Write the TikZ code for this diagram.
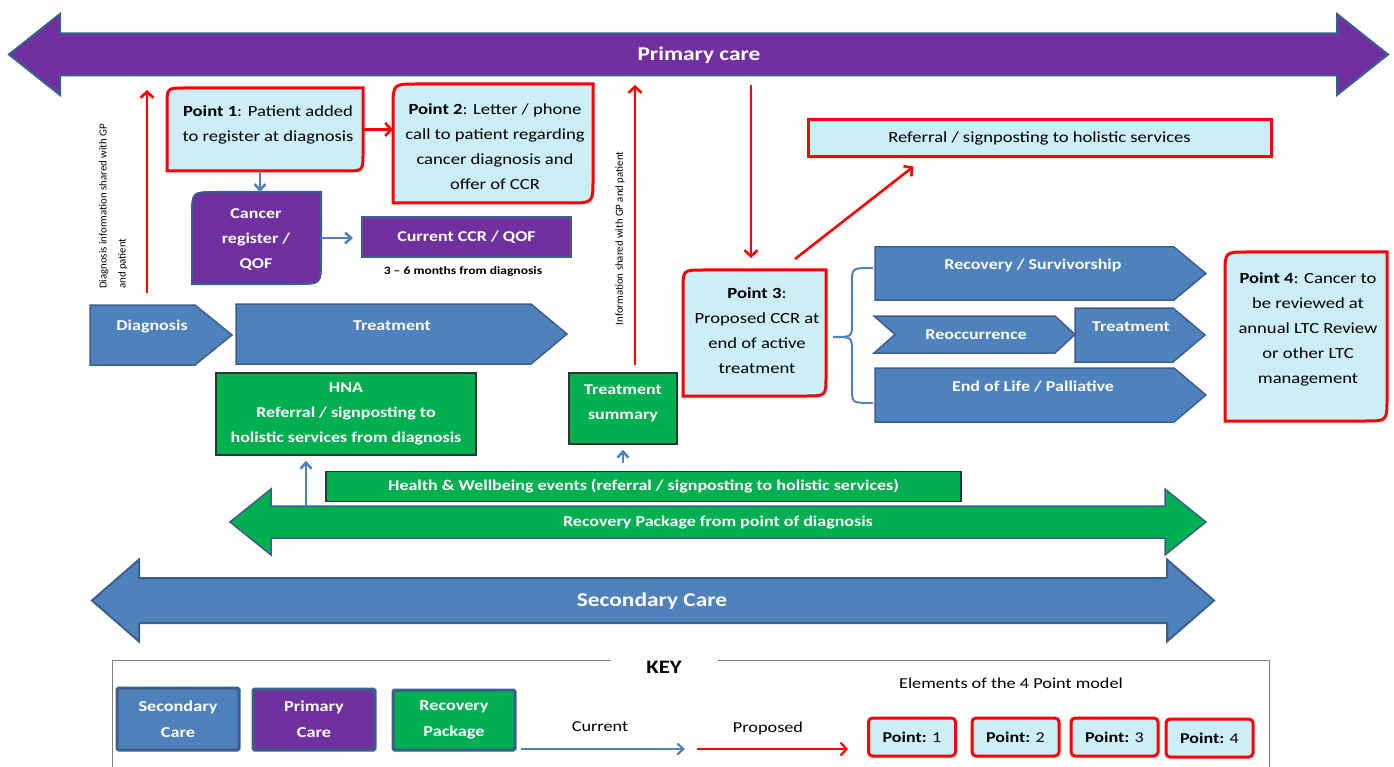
\documentclass[tikz,border=0pt]{standalone}
\usepackage{fontspec}
\setmainfont{Carlito}[FakeStretch=1.2]
\newfontfamily\plainfont{Carlito}
\usetikzlibrary{arrows.meta}
\definecolor{cpurple}{HTML}{7030A0}
\definecolor{cblue}{HTML}{4F81BD}
\definecolor{cborder}{HTML}{3B5F8C}
\definecolor{cgreen}{HTML}{00B050}
\definecolor{cgborder}{HTML}{263A2C}
\definecolor{clight}{HTML}{CCEEF9}
\definecolor{cred}{HTML}{FF0000}
\definecolor{cgray}{HTML}{7F7F7F}
\newcommand\FS[2]{\fontsize{#1}{#2}\selectfont}
% shape with rounded top-left and bottom-right corners
\newcommand\ShapeTLBR[6]{\path[#1] (#2,#3+#6) .. controls (#2,#3) .. (#2+#6,#3) -- (#4,#3) -- (#4,#5-#6) .. controls (#4,#5) .. (#4-#6,#5) -- (#2,#5) -- cycle;}
% invisible node covering a box
\newcommand\BoxNode[5]{\node[inner sep=0pt, outer sep=0pt, minimum width={#4-#2}, minimum height={#5-#3}] (#1) at ({(#2+#4)/2},{(#3+#5)/2}) {};}
% chevron: style, x1, y1, x2, y2, tip depth, notch depth
\newcommand\Chev[7]{\path[#1] (#2,#3) -- (#4-#6,#3) -- (#4,{(#3+#5)/2}) -- (#4-#6,#5) -- (#2,#5) -- (#2+#7,{(#3+#5)/2}) -- cycle;}
% double arrow: style, x1, x2, yc, shaft half, head half, head length
\newcommand\DblArrow[7]{\path[#1] (#2,#4) -- (#2+#7,#4-#6) -- (#2+#7,#4-#5) -- (#3-#7,#4-#5) -- (#3-#7,#4-#6) -- (#3,#4) -- (#3-#7,#4+#6) -- (#3-#7,#4+#5) -- (#2+#7,#4+#5) -- (#2+#7,#4+#6) -- cycle;}
\begin{document}
\begin{tikzpicture}[x=1pt,y=-1pt,
  redarr/.style={draw=cred, line width=2.6pt, -{Straight Barb[length=6pt,width=13pt]}},
  bluearr/.style={draw=cblue, line width=2.6pt, -{Straight Barb[length=6pt,width=11pt]}},
  chevron/.style={fill=cblue, draw=cborder, line width=1.5pt},
  pshape/.style={fill=clight, draw=cred, line width=3pt},
  crshape/.style={fill=cpurple, draw=cborder, line width=2pt},
  wlab/.style={text=white, font=\FS{15}{25}\bfseries, align=center, inner sep=0pt},
  blab/.style={text=black, font=\FS{15.5}{25}, align=center, inner sep=0pt},
  greenbox/.style={fill=cgreen, draw=cgborder, line width=1.5pt, inner sep=0pt, text=white, font=\FS{15}{25}\bfseries, align=center},
  keybox/.style={draw=cborder, line width=3pt, rounded corners=1.5pt, inner sep=0pt, minimum width=122pt, text=white, font=\FS{15.2}{26}\bfseries, align=center},
  kpoint/.style={draw=cred, fill=clight, line width=3pt, rounded corners=4pt, inner sep=0pt, minimum width=87pt, minimum height=38pt, font=\FS{15}{17}},
  ktext/.style={inner sep=0pt, font=\FS{15.2}{17}},
  vtext/.style={rotate=90, font=\plainfont\FS{10.8}{19}, align=left, inner sep=0pt}
]
\useasboundingbox (0,0) rectangle (1394,767);

% ---------- Primary care ----------
\DblArrow{fill=cpurple, draw=cborder, line width=2pt}{9}{1388}{54.5}{21}{40.5}{51}
\node[wlab, font=\FS{19.5}{22}\bfseries] (pc) at (699,55) {Primary care};

% ---------- left vertical information arrow ----------
\coordinate (d0) at (147,293);
\coordinate (d1) at (147,90);
\draw[redarr] (d0) -- (d1);
\node[vtext, anchor=north west] (dinfo) at (99,289) {Diagnosis information shared with GP\\and patient};

% ---------- Point 1 ----------
\ShapeTLBR{pshape}{167}{88}{363}{171}{18}
\BoxNode{p1}{167}{88}{363}{171}
\node[blab] (p1t) at (268,124.5) {{\bfseries Point 1}: Patient added\\to register at diagnosis};

% ---------- Point 2 ----------
\ShapeTLBR{pshape}{393}{84}{593}{203}{24}
\BoxNode{p2}{393}{84}{593}{203}
\node[blab] (p2t) at (495,146.5) {{\bfseries Point 2}: Letter / phone\\call to patient regarding\\cancer diagnosis and\\offer of CCR};

\draw[redarr] (p1.east) -- (p2.west |- p1.east);

% ---------- Cancer register ----------
\ShapeTLBR{crshape}{192}{192}{321}{284}{24}
\BoxNode{cr}{192}{192}{321}{284}
\node[wlab] (crt) at (256,240) {Cancer\\register /\\QOF};
\draw[bluearr] (p1.south -| 260,0) -- (cr.north -| 260,0);

% ---------- Current CCR ----------
\node[fill=cpurple, draw=cborder, line width=2pt, minimum width=209pt, minimum height=40pt, wlab] (ccr) at (466.5,237) {Current CCR / QOF};
\node[inner sep=0pt, font=\FS{11.3}{14}\bfseries] (months) at (463,271) {3 -- 6 months from diagnosis};
\draw[bluearr, shorten >=8pt] (cr.east) -- (ccr.west |- cr.east);

% ---------- Diagnosis / Treatment ----------
\Chev{chevron}{90}{305}{232}{365}{37}{0}
\node[wlab] (diag) at (152,327) {Diagnosis};
\Chev{chevron}{236}{304}{567}{364}{36}{0}
\node[wlab] (treat) at (392,326) {Treatment};

% ---------- middle vertical information arrow ----------
\coordinate (i0) at (635,365);
\coordinate (i1) at (635,85);
\draw[redarr] (i0) -- (i1);
\node[vtext] (iinfo) at (620,238.5) {Information shared with GP and patient};

% ---------- Point 3 ----------
\ShapeTLBR{pshape}{683}{270}{826}{396}{20}
\BoxNode{p3}{683}{270}{826}{396}
\node[blab] (p3t) at (757,331) {{\bfseries Point 3}:\\Proposed CCR at\\end of active\\treatment};
\coordinate (pcb) at (751,85);
\draw[redarr, shorten >=12pt] (pcb) -- (pcb |- p3.north);

% ---------- Referral box ----------
\node[draw=cred, fill=clight, line width=3pt, minimum width=463pt, minimum height=37pt, blab] (ref) at (1039.5,138.5) {Referral / signposting to holistic services};
\coordinate (p3o) at (795,259);
\draw[redarr] (p3o) -- ([xshift=107pt, yshift=-8pt]ref.south west);

% ---------- brace ----------
\draw[cblue, line width=2pt] (873,268) .. controls (852,268) .. (852,282) -- (852,323) .. controls (852,337) .. (833,337) .. controls (852,337) .. (852,351) -- (852,389) .. controls (852,403) .. (873,403);

% ---------- outcome chevrons ----------
\Chev{chevron}{875}{247}{1206}{300}{32}{0}
\node[wlab] (rs) at (1033,265) {Recovery / Survivorship};
\Chev{chevron}{874}{316}{1075}{353}{20}{21}
\node[wlab] (reoc) at (976,335) {Reoccurrence};
\Chev{chevron}{1075}{308}{1205}{362}{32}{0}
\node[wlab] (treat2) at (1131,327) {Treatment};
\Chev{chevron}{875}{368}{1206}{422}{32}{0}
\node[wlab] (eol) at (1033,387) {End of Life / Palliative};

% ---------- Point 4 ----------
\ShapeTLBR{pshape}{1225}{252}{1387}{421}{22}
\BoxNode{p4}{1225}{252}{1387}{421}
\node[blab] (p4t) at (1308,329) {{\bfseries Point 4}: Cancer to\\be reviewed at\\annual LTC Review\\or other LTC\\management};

% ---------- green boxes ----------
\node[greenbox, minimum width=260pt, minimum height=82pt] (hna) at (346,414) {HNA\\Referral / signposting to\\holistic services from diagnosis};
\node[greenbox, minimum width=108pt, minimum height=71pt] (ts) at (623,408.5) {};
\node[wlab] (tst) at (623,403) {Treatment\\summary};
\node[greenbox, minimum width=635pt, minimum height=30pt] (hw) at (643.5,486.5) {Health \& Wellbeing events (referral / signposting to holistic services)};

% ---------- Recovery package arrow ----------
\DblArrow{fill=cgreen, draw=cborder, line width=1.5pt}{230}{1206}{522}{16}{33}{41}
\node[wlab] (rp) at (718,523) {Recovery Package from point of diagnosis};
\coordinate (rp0) at (306,506);
\draw[bluearr, shorten >=5pt] (rp0) -- (rp0 |- hna.south);
\draw[bluearr, shorten <=8pt, shorten >=5pt] (hw.north -| ts.south) -- (ts.south);

% ---------- Secondary care ----------
\DblArrow{fill=cblue, draw=cborder, line width=2pt}{92}{1214}{600.5}{22.5}{41}{47}
\node[wlab, font=\FS{19.5}{22}\bfseries] (sc) at (652,601) {Secondary Care};

% ---------- KEY ----------
\draw[cgray, line width=1pt] (611,660) -- (112,660) -- (112,767);
\draw[cgray, line width=1pt] (718,660) -- (1269,660) -- (1269,767);
\node[inner sep=0pt, font=\FS{19}{20}\bfseries] (key) at (664,667) {KEY};
\node[keybox, fill=cblue, minimum height=62pt] (ks) at (178,719) {Secondary\\Care};
\node[keybox, fill=cpurple, minimum height=61pt] (kp) at (314,719.5) {Primary\\Care};
\node[keybox, fill=cgreen, minimum height=60pt] (kr) at (454,720) {Recovery\\Package};
\coordinate (kc0) at (521,749);
\coordinate (kc1) at (685,749);
\draw[bluearr, line width=2.2pt] (kc0) -- (kc1);
\node[ktext] (kcur) at (600,727) {Current};
\coordinate (kq0) at (697,749);
\coordinate (kq1) at (848,749);
\draw[redarr, line width=2.2pt] (kq0) -- (kq1);
\node[ktext] (kprop) at (768,728) {Proposed};
\node[ktext] (kelem) at (1011,683) {Elements of the 4 Point model};
\node[kpoint] (k1) at (912,737) {{\bfseries Point:} 1};
\node[kpoint] (k2) at (1015.5,737) {{\bfseries Point:} 2};
\node[kpoint] (k3) at (1114.5,737) {{\bfseries Point:} 3};
\node[kpoint] (k4) at (1209.5,738) {{\bfseries Point:} 4};
\end{tikzpicture}
\end{document}
